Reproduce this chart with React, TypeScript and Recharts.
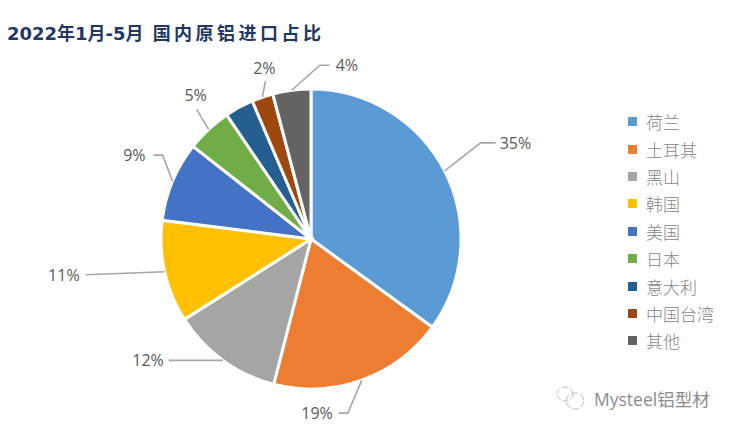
import { PieChart, Pie, Cell, Legend } from 'recharts'

const titleDate = '2022年1月-5月'
const titleRest = '国内原铝进口占比'
const watermark = 'Mysteel铝型材'
const countries = ['荷兰', '土耳其', '黑山', '韩国', '美国', '日本', '意大利', '中国台湾', '其他']
const shares = [35, 19, 12, 11, 8.6, 4.9, 3.1, 2.3, 4.1]
const colors = ['#5b9bd5', '#ed7d31', '#a5a5a5', '#ffc000', '#4472c4', '#70ad47', '#255e91', '#9e480e', '#636363']

const chartData = countries.map((name, i) => ({ name, value: shares[i] }))

// leader line bends and label spot, relative to the slice's outer edge. null = no label
const leaders: ({ bend: number[][]; text: number[]; anchor: string } | null)[] = [
  { bend: [[36, -28], [51, -28]], text: [55, -28], anchor: 'start' },
  { bend: [[-14, 33], [-23, 33]], text: [-29, 33], anchor: 'end' },
  { bend: [[-54, 0]], text: [-59, 0], anchor: 'end' },
  { bend: [[-79, 3]], text: [-85, 3], anchor: 'end' },
  { bend: [[-10, -26], [-19, -26]], text: [-27, -26], anchor: 'end' },
  { bend: [[-12, -20]], text: [-13, -34], anchor: 'middle' },
  null,
  { bend: [[3, -16]], text: [2, -29], anchor: 'middle' },
  { bend: [[28, -25], [38, -25]], text: [44, -25], anchor: 'start' },
]

function renderLabel(props: any) {
  const { index, cx, cy, midAngle, outerRadius, value } = props
  const spot = leaders[index]
  if (!spot) return null
  const rad = (midAngle * Math.PI) / 180
  const x = cx + outerRadius * Math.cos(rad)
  const y = cy - outerRadius * Math.sin(rad)
  const pts = [[x, y], ...spot.bend.map(([dx, dy]) => [x + dx, y + dy])]
  return (
    <g key={`label-${index}`}>
      <polyline points={pts.map((p) => p.join(',')).join(' ')} fill="none" stroke="#a6a6a6" strokeWidth={1.6} />
      <text
        x={x + spot.text[0]}
        y={y + spot.text[1]}
        textAnchor={spot.anchor as any}
        dominantBaseline="central"
        fontFamily="'Open Sans', sans-serif"
        fontSize={16}
        fill="#595959"
      >
        {`${Math.round(value)}%`}
      </text>
    </g>
  )
}

function renderLegend(props: any) {
  return (
    <div>
      {props.payload.map((item: any) => (
        <div key={item.value} style={{ display: 'flex', alignItems: 'center', height: 27.4 }}>
          <span style={{ width: 9, height: 9, background: item.color, marginRight: 9 }} />
          <span style={{ fontFamily: "'Noto Sans CJK SC'", fontWeight: 300, fontSize: 17, color: '#858585', whiteSpace: 'nowrap' }}>
            {item.value}
          </span>
        </div>
      ))}
    </div>
  )
}

export default function App() {
  return (
    <div style={{ position: 'absolute', left: 0, top: 0, width: 734, height: 432, background: '#fff', overflow: 'hidden' }}>
      <PieChart width={734} height={432} margin={{ top: 0, right: 0, bottom: 0, left: 0 }}>
        <Pie
          data={chartData}
          dataKey="value"
          nameKey="name"
          cx={311}
          cy={239}
          outerRadius={150}
          startAngle={90}
          endAngle={-270}
          stroke="#fff"
          strokeWidth={3}
          label={renderLabel}
          labelLine={false}
          isAnimationActive={false}
        >
          {chartData.map((d, i) => (
            <Cell key={d.name} fill={colors[i]} />
          ))}
        </Pie>
        <Legend
          layout="vertical"
          content={renderLegend}
          itemSorter={null}
          wrapperStyle={{ left: 628, top: 108, width: 100, bottom: 'auto', right: 'auto' }}
        />
      </PieChart>
      <div
        style={{
          position: 'absolute',
          left: 7,
          top: 21,
          fontFamily: "'DejaVu Sans', 'Noto Sans CJK SC'",
          fontWeight: 700,
          fontSize: 18,
          lineHeight: '26px',
          color: '#1f3864',
          whiteSpace: 'nowrap',
        }}
      >
        {titleDate}
        <span style={{ marginLeft: 9, letterSpacing: 3.5 }}>{titleRest}</span>
      </div>
      <svg style={{ position: 'absolute', left: 554, top: 384 }} width={36} height={30} fill="none" stroke="#bdbdbd" strokeWidth={1}>
        <ellipse cx={11} cy={10} rx={8} ry={7} strokeDasharray="6 2" />
        <ellipse cx={21} cy={17} rx={9} ry={8} strokeDasharray="7 2" />
      </svg>
      <div
        style={{
          position: 'absolute',
          left: 594,
          top: 387,
          fontFamily: "'Open Sans', 'Noto Sans CJK SC'",
          fontSize: 17.5,
          lineHeight: '24px',
          color: '#8c8c8c',
          whiteSpace: 'nowrap',
        }}
      >
        {watermark}
      </div>
    </div>
  )
}
